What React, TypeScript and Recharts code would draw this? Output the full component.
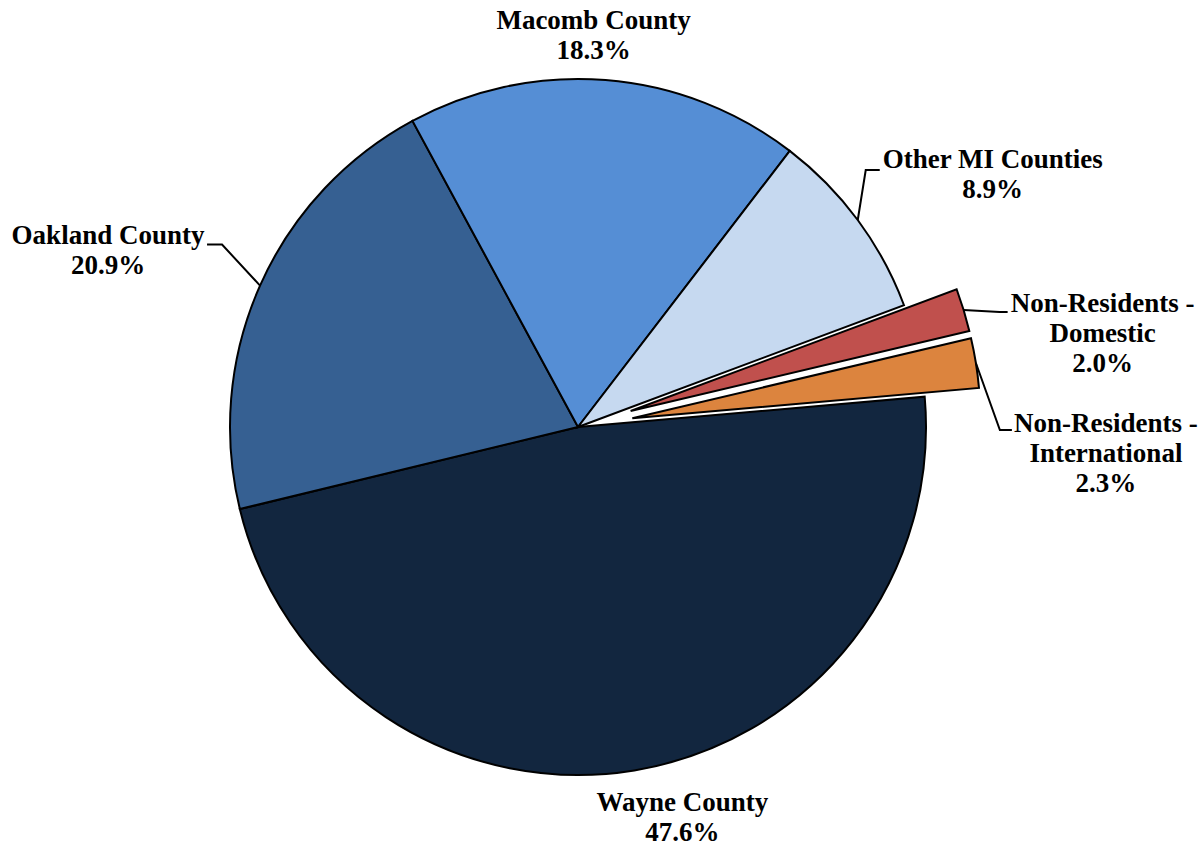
import { Cell, Pie, PieChart } from "recharts";

const categories = [
  "Wayne County",
  "Oakland County",
  "Macomb County",
  "Other MI Counties",
  "Non-Residents - Domestic",
  "Non-Residents - International",
];
const shares = [47.6, 20.9, 18.3, 8.9, 2.0, 2.3];
const colors = ["#12263f", "#366092", "#558ed5", "#c6d9f0", "#c0504d", "#dc843e"];
const exploded = [false, false, false, false, true, true];

const data = categories.map((name, i) => ({ name, value: shares[i] }));

const CX = 578;
const CY = 427;
const R = 348;
const START = 5;
const EXPLODE = 55;
const RAD = Math.PI / 180;

// text centre + first baseline, leader points, all relative to the slice's outer mid point
const labelLayout: Record<string, { tx: number; ty: number; leader?: number[][] }> = {
  "Wayne County": { tx: 48, ty: 41 },
  "Oakland County": { tx: -152, ty: -42, leader: [[0, 0], [-38, -41], [-53, -41]] },
  "Macomb County": { tx: -12, ty: -51 },
  "Other MI Counties": { tx: 135, ty: -52, leader: [[0, 0], [8, -50], [22, -50]] },
  "Non-Residents - Domestic": { tx: 139, ty: 2, leader: [[0, 0], [36, 2], [44, 2]] },
  "Non-Residents - International": { tx: 130, ty: 69, leader: [[0, 0], [24, 67], [36, 67]] },
};

const total = shares.reduce((a, b) => a + b, 0);
function midAngleOf(i: number) {
  const before = shares.slice(0, i).reduce((a, b) => a + b, 0);
  return START - (360 * (before + shares[i] / 2)) / total;
}

function renderLabel(show: (i: number) => boolean) {
  return (props: any) => {
    const { cx, cy, midAngle, outerRadius, name, value, index } = props;
    if (!show(index)) return null;
    const ax = cx + outerRadius * Math.cos(midAngle * RAD);
    const ay = cy - outerRadius * Math.sin(midAngle * RAD);
    const layout = labelLayout[name];
    const lines = name.includes(" - ") ? [name.split(" - ")[0] + " -", name.split(" - ")[1]] : [name];
    lines.push(`${Number(value).toFixed(1)}%`);
    return (
      <g key={`lbl-${name}`}>
        {layout.leader && (
          <polyline
            points={layout.leader.map(([x, y]) => `${ax + x},${ay + y}`).join(" ")}
            fill="none"
            stroke="#000"
            strokeWidth={2}
          />
        )}
        <text
          x={ax + layout.tx}
          y={ay + layout.ty}
          textAnchor="middle"
          fontFamily="'Liberation Serif', 'Times New Roman', serif"
          fontWeight="bold"
          fontSize={27}
          fill="#000"
        >
          {lines.map((l, k) => (
            <tspan key={k} x={ax + layout.tx} dy={k === 0 ? 0 : 30}>
              {l}
            </tspan>
          ))}
        </text>
      </g>
    );
  };
}

export default function App() {
  const explodedIdx = exploded.map((e, i) => (e ? i : -1)).filter((i) => i >= 0);
  return (
    <div style={{ position: "absolute", left: 0, top: 0, background: "#fff" }}>
      <PieChart width={1201} height={848} margin={{ top: 0, right: 0, bottom: 0, left: 0 }}>
        <Pie
          data={data}
          dataKey="value"
          nameKey="name"
          cx={CX}
          cy={CY}
          outerRadius={R}
          startAngle={START}
          endAngle={START - 360}
          isAnimationActive={false}
          labelLine={false}
          label={renderLabel((i) => !exploded[i])}
        >
          {data.map((d, i) => (
            <Cell
              key={d.name}
              fill={exploded[i] ? "none" : colors[i]}
              stroke={exploded[i] ? "none" : "#000"}
              strokeWidth={2}
            />
          ))}
        </Pie>
        {explodedIdx.map((j) => {
          const mid = midAngleOf(j);
          return (
            <Pie
              key={`ex-${j}`}
              data={data}
              dataKey="value"
              nameKey="name"
              cx={CX + EXPLODE * Math.cos(mid * RAD)}
              cy={CY - EXPLODE * Math.sin(mid * RAD)}
              outerRadius={R}
              startAngle={START}
              endAngle={START - 360}
              isAnimationActive={false}
              labelLine={false}
              label={renderLabel((i) => i === j)}
            >
              {data.map((d, i) => (
                <Cell
                  key={d.name}
                  fill={i === j ? colors[i] : "none"}
                  stroke={i === j ? "#000" : "none"}
                  strokeWidth={2}
                />
              ))}
            </Pie>
          );
        })}
      </PieChart>
    </div>
  );
}
